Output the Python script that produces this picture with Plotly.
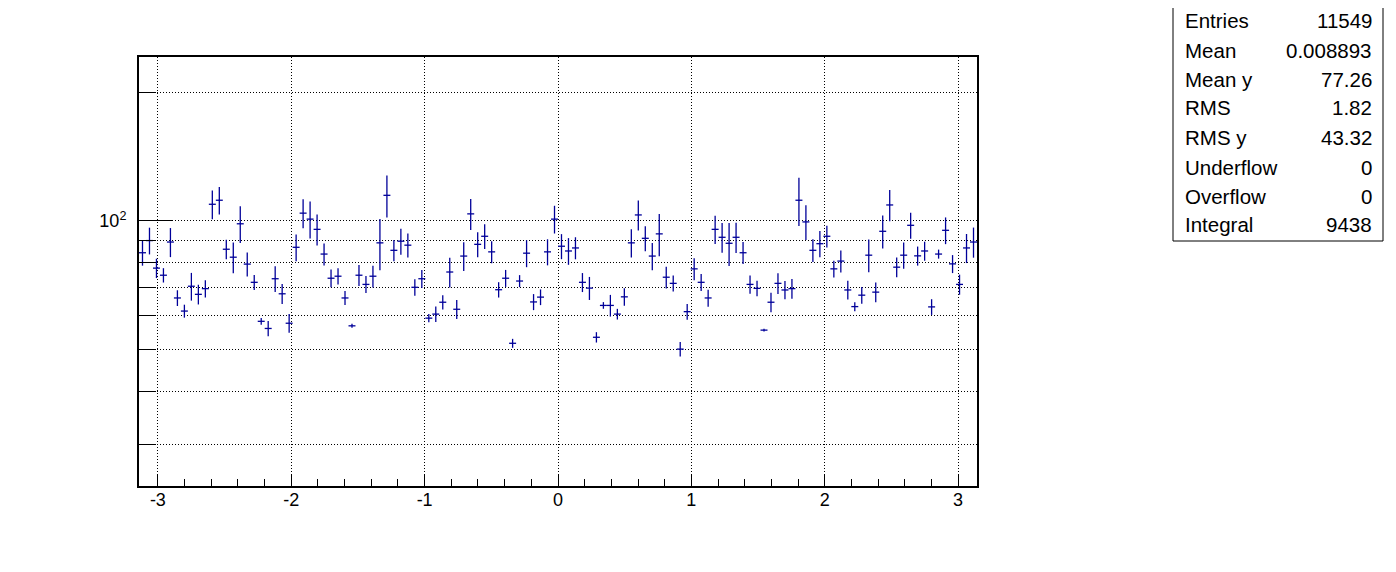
import numpy as np
import plotly.graph_objects as go

# ---- data (profile of 120 bins over [-pi, pi]) ----
n_bins = 120
x_lo, x_hi = -np.pi, np.pi

values = [
    84.3, 90.0, 77.6, 74.7, 89.3, 66.1, 61.6, 70.4, 67.4, 69.5,
    109.4, 111.8, 85.9, 82.3, 98.5, 79.3, 71.9, 58.3, 56.1, 73.3,
    67.6, 57.7, 86.8, 104.3, 101.0, 95.6, 83.7, 73.5, 74.3, 66.1,
    56.9, 74.7, 71.1, 74.3, 88.9, 114.8, 85.4, 89.7, 87.8, 70.0,
    73.3, 59.3, 60.6, 64.6, 76.0, 62.2, 82.8, 103.9, 88.2, 92.1,
    84.7, 69.1, 73.5, 51.8, 72.4, 84.1, 64.7, 66.4, 84.7, 101.0,
    87.3, 85.1, 86.5, 71.9, 69.7, 53.5, 63.5, 63.5, 60.6, 66.5,
    88.9, 103.3, 91.1, 82.8, 93.3, 73.9, 71.5, 50.2, 61.4, 77.3,
    71.9, 66.1, 95.6, 91.6, 88.7, 91.6, 84.3, 71.1, 69.6, 55.6,
    64.6, 71.5, 69.0, 69.5, 111.8, 99.5, 85.4, 88.5, 92.1, 77.3,
    80.6, 69.0, 63.1, 67.1, 83.2, 68.2, 94.6, 109.0, 78.0, 83.2,
    97.7, 82.9, 85.1, 63.0, 83.7, 95.1, 79.4, 71.1, 86.5, 89.3,
]
errors = [
    5.67, 6.46, 4.04, 2.88, 6.97, 2.79, 2.15, 5.24, 3.57, 3.24,
    8.44, 8.32, 4.54, 6.79, 9.71, 5.12, 2.90, 1.05, 2.31, 5.06,
    3.64, 2.90, 6.23, 8.14, 10.05, 7.97, 4.95, 3.49, 3.20, 2.49,
    0.61, 4.22, 3.25, 4.33, 12.2, 12.97, 4.83, 6.27, 5.67, 3.08,
    3.55, 1.33, 2.55, 2.49, 6.06, 3.18, 6.38, 8.66, 5.93, 6.11,
    5.01, 2.85, 3.36, 1.25, 2.34, 6.11, 2.79, 2.80, 5.93, 7.52,
    5.87, 6.10, 5.12, 3.67, 4.31, 1.49, 1.14, 3.70, 1.74, 3.10,
    6.70, 8.34, 6.13, 6.09, 10.54, 4.31, 3.08, 1.98, 2.59, 4.57,
    3.29, 3.02, 7.20, 7.31, 10.18, 7.39, 4.99, 3.51, 2.93, 0.40,
    3.42, 3.97, 3.40, 3.68, 14.44, 9.28, 5.21, 6.19, 5.37, 3.47,
    4.77, 3.47, 1.53, 3.01, 7.31, 3.61, 8.40, 9.09, 4.13, 5.82,
    6.83, 4.24, 4.35, 2.66, 2.03, 6.82, 3.84, 3.83, 6.75, 7.21,
]

x_major_ticks = [-3, -2, -1, 0, 1, 2, 3]
y_major_ticks = [100]
y_major_text = ["10<sup>2</sup>"]
y_minor_ticks = [30, 40, 50, 60, 70, 80, 90, 200]

stat_labels = ["Entries", "Mean", "Mean y", "RMS", "RMS y", "Underflow", "Overflow", "Integral"]
stat_values = ["11549", "0.008893", "77.26", "1.82", "43.32", "0", "0", "9438"]

# ---- figure ----
bin_w = (x_hi - x_lo) / n_bins
centers = x_lo + (np.arange(n_bins) + 0.5) * bin_w
line_col = "#000099"
FONT = "Liberation Sans, Arial, Helvetica, sans-serif"

fig = go.Figure()
fig.add_trace(go.Scatter(
    x=centers, y=values, mode="markers",
    marker=dict(size=4, color=line_col, opacity=0),
    error_x=dict(type="constant", value=bin_w / 2, width=0, thickness=1.3, color=line_col),
    error_y=dict(type="data", array=errors, width=0, thickness=1.3, color=line_col),
    showlegend=False, hoverinfo="x+y",
))

W, H = 1396, 572
OFF = 8  # page body margin
# target screen pixels of the plot frame
L, R, T, B = 139 - OFF, 977 - OFF, 57 - OFF, 486 - OFF
grid_dash = "1px,2px"

fig.update_layout(
    width=W, height=H,
    margin=dict(l=L, r=W - R, t=T, b=H - B, autoexpand=False),
    paper_bgcolor="white", plot_bgcolor="white",
    font=dict(family=FONT, size=18, color="black"),
    xaxis=dict(
        range=[x_lo, x_hi], tickmode="array", tickvals=x_major_ticks,
        ticktext=[str(v) for v in x_major_ticks],
        ticks="inside", ticklen=12, tickwidth=1, tickcolor="black",
        showgrid=True, gridcolor="black", gridwidth=1, griddash=grid_dash,
        minor=dict(dtick=0.2, tick0=0, ticks="inside", ticklen=7, tickcolor="black", showgrid=False),
        zeroline=False, showline=True, linecolor="black", linewidth=2, mirror=True,
        tickfont=dict(size=18), ticklabelstandoff=-4,
    ),
    yaxis=dict(
        type="log", range=[1.381, 2.383],
        tickmode="array", tickvals=y_major_ticks, ticktext=y_major_text,
        ticks="inside", ticklen=33, tickwidth=1, tickcolor="black",
        showgrid=True, gridcolor="black", gridwidth=1, griddash=grid_dash,
        minor=dict(tickmode="array", tickvals=y_minor_ticks, ticks="inside", ticklen=17,
                   tickcolor="black", showgrid=True, gridcolor="black", gridwidth=1,
                   griddash=grid_dash),
        zeroline=False, showline=True, linecolor="black", linewidth=2, mirror=True,
        tickfont=dict(size=18), ticklabelstandoff=7,
    ),
)

# stats box (screen pixel -> paper conversion)
def px_x(p):
    return (p - OFF - L) / (R - L)

def px_y(p):
    return (B - (p - OFF)) / (B - T)

fig.add_shape(type="rect", xref="paper", yref="paper",
              x0=px_x(1173), x1=px_x(1383), y0=px_y(241), y1=px_y(4),
              line=dict(color="black", width=1), fillcolor="white")
row_y = [21, 50, 79, 108, 137, 167, 196, 224]
for lab, val, yy in zip(stat_labels, stat_values, row_y):
    fig.add_annotation(xref="paper", yref="paper", x=px_x(1183), y=px_y(yy),
                       text=lab, showarrow=False, xanchor="left", yanchor="middle",
                       font=dict(size=20.5, family=FONT, color="black"))
    fig.add_annotation(xref="paper", yref="paper", x=px_x(1374), y=px_y(yy),
                       text=val, showarrow=False, xanchor="right", yanchor="middle",
                       font=dict(size=20.5, family=FONT, color="black"))

fig.write_html("out.html")
